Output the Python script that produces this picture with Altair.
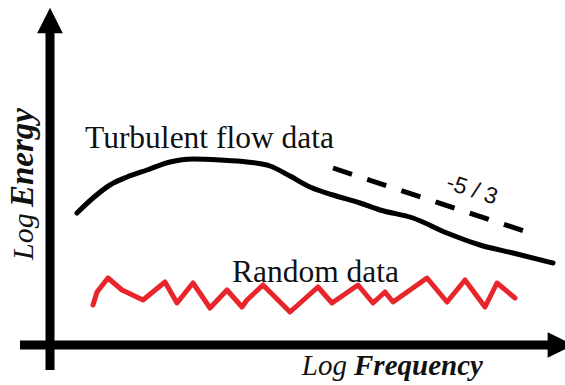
import altair as alt
import pandas as pd

# Schematic energy spectrum: log frequency (x) against log energy (y), arbitrary units.
W, H = 565, 385

# Turbulent flow spectrum: rise, plateau, then -5/3 style decay
turb_freq = [77, 93, 110, 127, 147, 170, 193, 220, 247, 270, 290, 310, 333, 360, 380, 413, 447, 480, 513, 553]
turb_energy = [172, 187, 200, 208, 215, 223, 226, 225, 223, 219, 209, 198, 190, 182, 175, 167, 152, 140, 132, 122]

# Random (white-noise like) data: jagged flat line
rand_freq = [93, 97, 108, 122, 143, 165, 177, 193, 210, 227, 242, 247, 263, 290, 318, 332, 358, 373, 385, 393,
             427, 447, 465, 485, 497, 515]
rand_energy = [80, 93, 107, 95, 85, 103, 82, 102, 77, 95, 78, 85, 100, 73, 98, 82, 100, 82, 93, 83,
               107, 83, 105, 78, 102, 87]

# Reference slope line
slope_freq = [333, 530]
slope_energy = [217, 152]

# Axis arrows (shaft ends and arrow-head centres)
yaxis_freq = [50, 50]
yaxis_energy = [15, 355]
xaxis_freq = [20, 550]
xaxis_energy = [40, 40]
head_freq = [50, 560.5]
head_energy = [364.5, 40]
head_shape = ["M0,-1L-1,1L1,1Z", "M1,0L-1,-1L-1,1Z"]

# Text annotations
label_text = ["Turbulent flow data", "Random data"]
label_freq = [85, 232]
label_energy = [237, 103]

X = alt.Scale(domain=[0, W])
Y = alt.Scale(domain=[0, H])


def xy(df_x="f", df_y="e"):
    return dict(
        x=alt.X(f"{df_x}:Q", scale=X, axis=None),
        y=alt.Y(f"{df_y}:Q", scale=Y, axis=None),
    )


ink = "#111111"
serif = "'Liberation Serif', 'Times New Roman', Times, serif"

turb = alt.Chart(pd.DataFrame({"f": turb_freq, "e": turb_energy})).mark_line(
    color="black", strokeWidth=5, strokeCap="round", strokeJoin="round", interpolate="monotone"
).encode(**xy())

rand = alt.Chart(pd.DataFrame({"f": rand_freq, "e": rand_energy})).mark_line(
    color="#e8252b", strokeWidth=5, strokeCap="round", strokeJoin="round"
).encode(**xy())

slope = alt.Chart(pd.DataFrame({"f": slope_freq, "e": slope_energy})).mark_line(
    color="black", strokeWidth=5, strokeDash=[20, 16]
).encode(**xy())

yaxis = alt.Chart(pd.DataFrame({"f": yaxis_freq, "e": yaxis_energy})).mark_line(
    color="black", strokeWidth=9
).encode(**xy())

xaxis = alt.Chart(pd.DataFrame({"f": xaxis_freq, "e": xaxis_energy})).mark_line(
    color="black", strokeWidth=9
).encode(**xy())

heads = alt.Chart(pd.DataFrame({"f": head_freq, "e": head_energy, "s": head_shape})).mark_point(
    filled=True, color="black", size=660, opacity=1
).encode(**xy(), shape=alt.Shape("s:N", scale=None))

labels = alt.Chart(pd.DataFrame({"f": label_freq, "e": label_energy, "t": label_text})).mark_text(
    font=serif, fontSize=31.5, align="left", baseline="alphabetic", color=ink
).encode(**xy(), text="t:N")

slope_label = alt.Chart(pd.DataFrame({"f": [472], "e": [195], "t": ["-5 / 3"]})).mark_text(
    font="'Liberation Sans', Arial, sans-serif", fontSize=23, align="center", baseline="middle", angle=18, color=ink
).encode(**xy(), text="t:N")

# Axis titles: "Log" in italic, the quantity in bold italic
xlog = alt.Chart(pd.DataFrame({"f": [347], "e": [10], "t": ["Log"]})).mark_text(
    font=serif, fontSize=29, fontStyle="italic", align="right", baseline="alphabetic", color=ink
).encode(**xy(), text="t:N")
xname = alt.Chart(pd.DataFrame({"f": [354], "e": [10], "t": ["Frequency"]})).mark_text(
    font=serif, fontSize=29, fontStyle="italic", fontWeight="bold", align="left", baseline="alphabetic", color=ink
).encode(**xy(), text="t:N")

ylog = alt.Chart(pd.DataFrame({"f": [33], "e": [125], "t": ["Log"]})).mark_text(
    font=serif, fontSize=30, fontStyle="italic", align="left", baseline="alphabetic", angle=270, color=ink
).encode(**xy(), text="t:N")
yname = alt.Chart(pd.DataFrame({"f": [33], "e": [178], "t": ["Energy"]})).mark_text(
    font=serif, fontSize=33, fontStyle="italic", fontWeight="bold", align="left", baseline="alphabetic", angle=270, color=ink
).encode(**xy(), text="t:N")

chart = alt.layer(
    yaxis, xaxis, heads, turb, slope, rand, labels, slope_label, xlog, xname, ylog, yname
).properties(
    width=W, height=H, padding=0, autosize=alt.AutoSizeParams(type="none"), background="white"
).configure_view(stroke=None)

chart.save("out.html", embed_options={"renderer": "svg", "actions": False})
